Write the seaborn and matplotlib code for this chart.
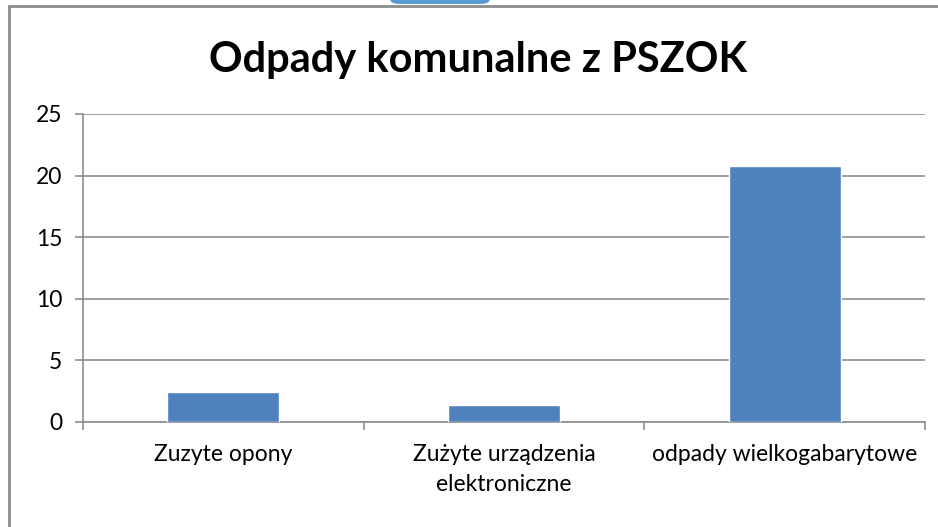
import numpy as np
import matplotlib
matplotlib.use("Agg")
import matplotlib.pyplot as plt
import seaborn as sns
from matplotlib.lines import Line2D
from matplotlib.patches import FancyBboxPatch

categories = ["Zuzyte opony", "Zużyte urządzenia\nelektroniczne", "odpady wielkogabarytowe"]
values = [2.4, 1.35, 20.8]
y_ticks = [0, 5, 10, 15, 20, 25]

sns.set_style("white")
plt.rcParams['font.family'] = ['Lato', 'DejaVu Sans']
plt.rcParams['text.color'] = 'black'
plt.rcParams['xtick.color'] = 'black'
plt.rcParams['ytick.color'] = 'black'

fig = plt.figure(figsize=(9.38, 5.27), dpi=100)
ax = fig.add_axes([83 / 938, 1 - 422 / 527, (925 - 83) / 938, (422 - 114) / 527])

sns.barplot(x=categories, y=values, color="#4F81BD", width=0.4, saturation=1, ax=ax, zorder=3)

# Grid and axes styling
ax.set_ylim(0, 25)
ax.set_xlim(-0.5, 2.5)
ax.set_yticks(y_ticks)
ax.set_yticklabels([str(v) for v in y_ticks], fontsize=16.5)
ax.yaxis.grid(True, color="#8c8c8c", linewidth=1.2, zorder=0)
for side in ["top", "right"]:
    ax.spines[side].set_visible(False)
for side in ["left", "bottom"]:
    ax.spines[side].set_color("#8c8c8c")
    ax.spines[side].set_linewidth(1.2)
ax.tick_params(axis="y", length=6, color="#8c8c8c", labelcolor="black", width=1.2, pad=9,
               direction="out", left=True)

# x ticks sit between categories, labels centered under bars
ax.set_xticks([-0.5, 0.5, 1.5, 2.5])
ax.set_xticklabels([])
ax.tick_params(axis="x", length=6, color="#8c8c8c", width=1.2, direction="out", bottom=True)
ax.set_xticks([0, 1, 2], minor=True)
ax.set_xticklabels(categories, minor=True, fontsize=16.5)
ax.tick_params(axis="x", which="minor", length=0, pad=16, labelcolor="black")
for lbl in ax.get_xticklabels(minor=True):
    lbl.set_linespacing(1.5)
    lbl.set_verticalalignment("top")
ax.set_xlabel("")
ax.set_ylabel("")

fig.text(478 / 938, 1 - 60 / 527, "Odpady komunalne z PSZOK", ha="center", va="center",
         fontsize=30, fontweight="bold", color="black")

# outer chart area border (left and top only visible)
fig.add_artist(Line2D([9 / 938, 9 / 938], [0, 1 - 6 / 527], color="#8c8c8c", linewidth=2))
fig.add_artist(Line2D([9 / 938, 1], [1 - 6 / 527, 1 - 6 / 527], color="#8c8c8c", linewidth=2))

# clipped bit of an image at the top
fig.add_artist(FancyBboxPatch((390 / 938, 1 - 4 / 527), 100 / 938, 12 / 527,
                              boxstyle="round,pad=0,rounding_size=0.01",
                              facecolor="#5b9bd5", edgecolor="none"))

fig.savefig("out.png", dpi=100)
